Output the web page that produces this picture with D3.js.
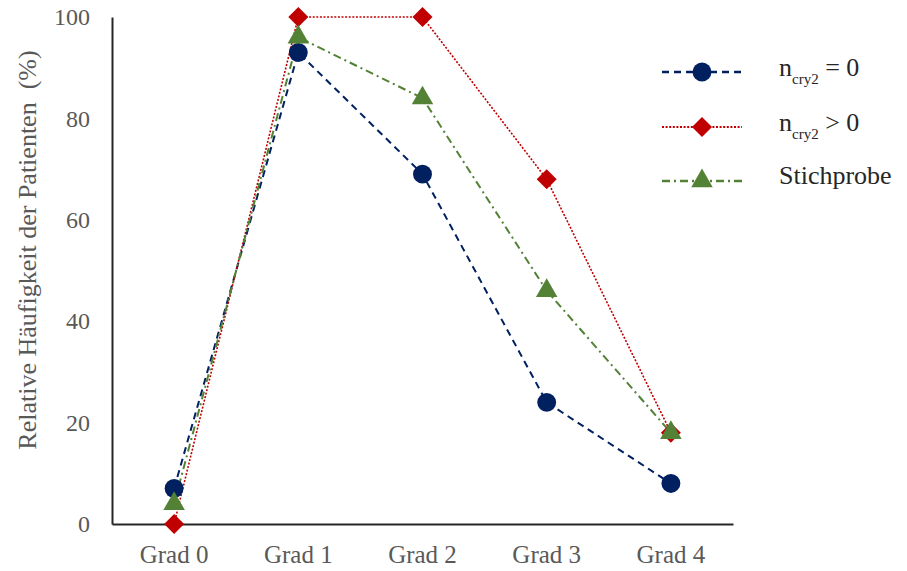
<!DOCTYPE html>
<html>
<head>
<meta charset="utf-8">
<script src="https://cdn.jsdelivr.net/npm/d3@7"></script>
<style>
  html, body { margin: 0; padding: 0; background: #fff; }
  svg text { font-family: "Liberation Serif", "Times New Roman", serif; }
</style>
</head>
<body>
<svg id="chart" width="907" height="571"></svg>
<script>
// Grade categories on the x axis
const categories = ["Grad 0", "Grad 1", "Grad 2", "Grad 3", "Grad 4"];
// Relative frequency of patients (%) per grade
const seriesCry2Zero = [7, 93, 69, 24, 8];
const seriesCry2Pos = [0, 100, 100, 68, 18];
const seriesSample = [4, 96, 84, 46, 18];
const yTicks = [0, 20, 40, 60, 80, 100];

// Rotated square used as the diamond marker
const diamond = {
  draw(ctx, size) {
    const r = Math.sqrt(size / 2);
    ctx.moveTo(0, -r); ctx.lineTo(r, 0); ctx.lineTo(0, r); ctx.lineTo(-r, 0); ctx.closePath();
  }
};

const series = [
  { values: seriesCry2Zero, color: "#002060", dash: "7,5", width: 2, symbol: d3.symbolCircle, size: 280 },
  { values: seriesCry2Pos, color: "#C00000", dash: "2,1.6", width: 1.6, symbol: diamond, size: 200 },
  { values: seriesSample, color: "#538135", dash: "8,4,2,4", width: 2, symbol: d3.symbolTriangle, size: 200 }
];

const svg = d3.select("#chart");
const margin = { left: 112, right: 174, top: 17, bottom: 47 };
const W = 907, H = 571;

const x = d3.scaleBand().domain(categories).range([margin.left, W - margin.right]);
const y = d3.scaleLinear().domain([0, 100]).range([H - margin.bottom, margin.top]);

// Axes
const xAxis = svg.append("g")
  .attr("transform", `translate(0,${y(0)})`)
  .call(d3.axisBottom(x).tickSize(0).tickPadding(21));
xAxis.select(".domain").attr("stroke", "#262626").attr("stroke-width", 2);
xAxis.selectAll("text").attr("font-size", 25).attr("fill", "#595959")
  .style("font-family", "'Liberation Serif', serif");

const yAxis = svg.append("g")
  .attr("transform", `translate(${margin.left},0)`)
  .call(d3.axisLeft(y).tickValues(yTicks).tickSize(0).tickPadding(22));
yAxis.select(".domain").attr("stroke", "#262626").attr("stroke-width", 2);
yAxis.selectAll("text").attr("font-size", 24).attr("fill", "#595959")
  .style("font-family", "'Liberation Serif', serif");

// Y axis title
svg.append("text")
  .attr("transform", `translate(36,250) rotate(-90)`)
  .attr("text-anchor", "middle")
  .attr("font-size", 26)
  .attr("fill", "#595959")
  .text("Relative Häufigkeit der Patienten  (%)")
  .attr("xml:space", "preserve");

const cx = d => x(d) + x.bandwidth() / 2;

// Lines
const line = d3.line().x((v, i) => cx(categories[i])).y(v => y(v));
series.forEach(s => {
  svg.append("path")
    .datum(s.values)
    .attr("d", line)
    .attr("fill", "none")
    .attr("stroke", s.color)
    .attr("stroke-width", s.width)
    .attr("stroke-dasharray", s.dash);
});

// Markers
series.forEach(s => {
  svg.append("g").selectAll("path")
    .data(s.values)
    .join("path")
    .attr("transform", (v, i) => `translate(${cx(categories[i])},${y(v)})`)
    .attr("d", d3.symbol().type(s.symbol).size(s.size))
    .attr("fill", s.color);
});

// Legend
const legend = svg.append("g");
const legendRows = [
  { s: series[0], yPos: 72, base: 76, label: [["n", 0], ["cry2", 1], [" = 0", -1]] },
  { s: series[1], yPos: 127, base: 131, label: [["n", 0], ["cry2", 1], [" > 0", -1]] },
  { s: series[2], yPos: 181, base: 184, label: [["Stichprobe", 0]] }
];
legendRows.forEach(r => {
  legend.append("line")
    .attr("x1", 662).attr("x2", 742)
    .attr("y1", r.yPos).attr("y2", r.yPos)
    .attr("stroke", r.s.color)
    .attr("stroke-width", r.s.width + 0.5)
    .attr("stroke-dasharray", r.s.dash);
  legend.append("path")
    .attr("transform", `translate(702,${r.yPos})`)
    .attr("d", d3.symbol().type(r.s.symbol).size(r.s.size))
    .attr("fill", r.s.color);
  const t = legend.append("text")
    .attr("x", 779).attr("y", r.base)
    .attr("font-size", 26)
    .attr("fill", "#262626")
    .attr("xml:space", "preserve");
  r.label.forEach(([str, mode]) => {
    const ts = t.append("tspan").text(str);
    if (mode === 1) ts.attr("font-size", 15).attr("dy", 8);
    else if (mode === -1) ts.attr("dy", -8);
  });
});
</script>
</body>
</html>
